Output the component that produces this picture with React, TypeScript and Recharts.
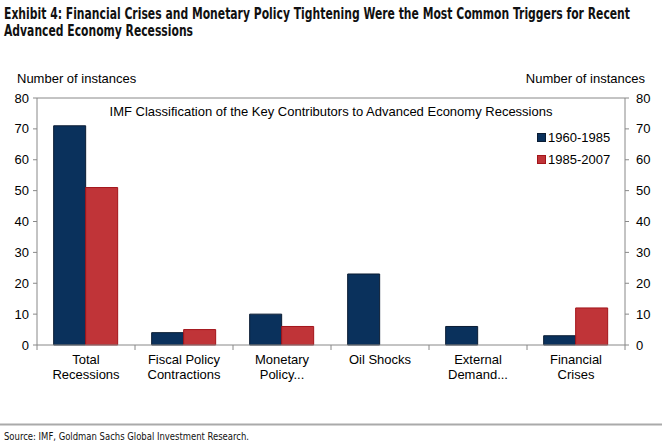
import React from 'react';
import { ComposedChart, Bar, Line, XAxis, YAxis, Legend, ReferenceLine } from 'recharts';

const categories = ['Total\nRecessions', 'Fiscal Policy\nContractions', 'Monetary\nPolicy...', 'Oil Shocks', 'External\nDemand...', 'Financial\nCrises'];
const series1960 = [71, 4, 10, 23, 6, 3];
const series1985 = [51, 5, 6, 0, 0, 12];
const yTicks = [0, 10, 20, 30, 40, 50, 60, 70, 80];
const seriesNames = ['1960-1985', '1985-2007'];

const data = categories.map((c, i) => ({ name: c, a: series1960[i], b: series1985[i] }));

const BLUE = '#0a315c';
const BLUE_EDGE = '#0a1c33';
const RED = '#c03438';
const RED_EDGE = '#a3141a';
const FONT = '"Liberation Sans", Arial, sans-serif';
const NARROW = '"Liberation Sans Narrow", "DejaVu Sans Condensed", sans-serif';

const XTick = (props: any) => {
  const { x, y, payload, index } = props;
  const half = payload && payload.offset ? payload.offset : 49;
  const lines = String(payload.value).split('\n');
  return (
    <g>
      <line x1={x - half} x2={x - half} y1={y} y2={y + 5} stroke="#888" />
      {index === categories.length - 1 && (
        <line x1={x + half} x2={x + half} y1={y} y2={y + 5} stroke="#888" />
      )}
      {lines.map((l, i) => (
        <text key={i} x={x} y={y + 19 + i * 15} textAnchor="middle" fontSize={13} fontFamily={FONT} fill="#000">
          {l}
        </text>
      ))}
    </g>
  );
};

const LegendContent = () => (
  <div style={{ fontFamily: FONT, fontSize: 13, color: '#000' }}>
    {seriesNames.map((n, i) => (
      <div key={n} style={{ display: 'flex', alignItems: 'center', height: 22 }}>
        <span
          style={{
            display: 'inline-block',
            width: 7,
            height: 7,
            background: i === 0 ? BLUE : RED,
            border: `1px solid ${i === 0 ? BLUE_EDGE : RED_EDGE}`,
            marginRight: 2,
          }}
        />
        <span>{n}</span>
      </div>
    ))}
  </div>
);

export default function App() {
  return (
    <div style={{ position: 'absolute', left: 0, top: 0, width: 662, height: 447, background: '#fff' }}>
      <svg width={662} height={447} style={{ position: 'absolute', left: 0, top: 0 }}>
        <g transform="translate(4,19) scale(1,1.35)">
          <text x={0} y={0} fontFamily={NARROW} fontWeight="bold" fontSize={11.5} fill="#111" textLength={626} lengthAdjust="spacingAndGlyphs">
            Exhibit 4: Financial Crises and Monetary Policy Tightening Were the Most Common Triggers for Recent
          </text>
        </g>
        <g transform="translate(4,36) scale(1,1.35)">
          <text x={0} y={0} fontFamily={NARROW} fontWeight="bold" fontSize={11.5} fill="#111" textLength={189} lengthAdjust="spacingAndGlyphs">
            Advanced Economy Recessions
          </text>
        </g>
        <text x={17} y={83} fontFamily={FONT} fontSize={13} fill="#000">Number of instances</text>
        <text x={645} y={83} textAnchor="end" fontFamily={FONT} fontSize={13} fill="#000">Number of instances</text>
        <text x={331} y={116} textAnchor="middle" fontFamily={FONT} fontSize={13} fill="#000">
          IMF Classification of the Key Contributors to Advanced Economy Recessions
        </text>
        <line x1={0} x2={662} y1={424.5} y2={424.5} stroke="#aaa" strokeWidth={2} />
        <text x={4} y={440} fontFamily={NARROW} fontSize={11} fill="#111" textLength={245} lengthAdjust="spacingAndGlyphs">
          Source: IMF, Goldman Sachs Global Investment Research.
        </text>
      </svg>
      <div style={{ position: 'absolute', left: 0, top: 0 }}>
        <ComposedChart
          width={662}
          height={447}
          data={data}
          margin={{ top: 98, right: 7, left: 7, bottom: 57 }}
          barCategoryGap="17%"
          barGap={0}
        >
          <XAxis
            dataKey="name"
            interval={0}
            tickLine={false}
            tickSize={0}
            tickMargin={0}
            height={45}
            axisLine={{ stroke: '#888' }}
            tick={<XTick />}
          />
          <YAxis
            yAxisId="left"
            domain={[0, 80]}
            ticks={yTicks}
            width={30}
            tickSize={4}
            tickMargin={4}
            axisLine={{ stroke: '#888' }}
            tickLine={{ stroke: '#888' }}
            tick={{ fill: '#000', fontSize: 13, fontFamily: FONT }}
          />
          <YAxis
            yAxisId="right"
            orientation="right"
            domain={[0, 80]}
            ticks={yTicks}
            width={30}
            tickSize={4}
            tickMargin={7}
            axisLine={{ stroke: '#888' }}
            tickLine={{ stroke: '#888' }}
            tick={{ fill: '#000', fontSize: 13, fontFamily: FONT, textAnchor: 'start' }}
          />
          <ReferenceLine yAxisId="left" y={80} stroke="#888" />
          <Legend
            layout="vertical"
            align="center"
            verticalAlign="middle"
            wrapperStyle={{ position: 'absolute', left: 537, top: 126, width: 90 }}
            content={<LegendContent />}
          />
          <Bar yAxisId="left" dataKey="a" name={seriesNames[0]} fill={BLUE} stroke={BLUE_EDGE} strokeWidth={1} isAnimationActive={false} />
          <Bar yAxisId="left" dataKey="b" name={seriesNames[1]} fill={RED} stroke={RED_EDGE} strokeWidth={1} isAnimationActive={false} />
          <Line yAxisId="right" dataKey="a" stroke="none" dot={false} activeDot={false} legendType="none" isAnimationActive={false} />
        </ComposedChart>
      </div>
    </div>
  );
}
